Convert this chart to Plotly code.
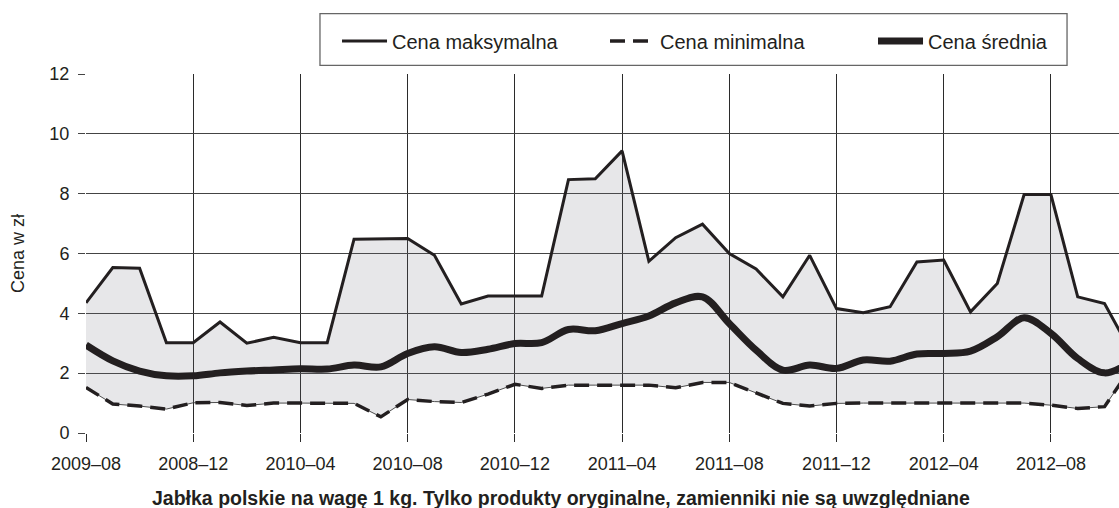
import plotly.graph_objects as go

months = ["2009-08", "2009-09", "2009-10", "2009-11", "2009-12",
          "2010-01", "2010-02", "2010-03", "2010-04", "2010-05", "2010-06", "2010-07",
          "2010-08", "2010-09", "2010-10", "2010-11", "2010-12",
          "2011-01", "2011-02", "2011-03", "2011-04", "2011-05", "2011-06", "2011-07",
          "2011-08", "2011-09", "2011-10", "2011-11", "2011-12",
          "2012-01", "2012-02", "2012-03", "2012-04", "2012-05", "2012-06", "2012-07",
          "2012-08", "2012-09", "2012-10", "2012-11"]

max_price = [4.35, 5.53, 5.51, 3.02, 3.02, 3.71, 3.0, 3.2, 3.02, 3.02,
             6.48, 6.49, 6.5, 5.94, 4.31, 4.58, 4.58, 4.58, 8.47, 8.5,
             9.43, 5.74, 6.53, 6.98, 6.0, 5.48, 4.55, 5.94, 4.16, 4.02,
             4.22, 5.72, 5.78, 4.05, 5.0, 7.97, 7.97, 4.55, 4.33, 2.7]

min_price = [1.52, 0.97, 0.9, 0.8, 1.01, 1.02, 0.92, 1.0, 1.0, 1.0,
             0.99, 0.54, 1.12, 1.05, 1.02, 1.3, 1.63, 1.49, 1.6, 1.6,
             1.6, 1.6, 1.51, 1.69, 1.69, 1.33, 0.99, 0.9, 0.99, 1.0,
             1.0, 1.0, 1.0, 1.0, 1.0, 1.0, 0.93, 0.82, 0.88, 2.2]

mean_price = [2.94, 2.41, 2.07, 1.91, 1.91, 2.01, 2.07, 2.11, 2.15, 2.14,
              2.27, 2.21, 2.66, 2.88, 2.69, 2.8, 2.99, 3.02, 3.46, 3.42,
              3.66, 3.91, 4.35, 4.55, 3.66, 2.77, 2.1, 2.27, 2.16, 2.44,
              2.4, 2.64, 2.66, 2.74, 3.22, 3.85, 3.33, 2.49, 2.01, 2.4]

tick_months = ["2009-08", "2009-12", "2010-04", "2010-08", "2010-12",
               "2011-04", "2011-08", "2011-12", "2012-04", "2012-08"]
tick_labels = ["2009–08", "2008–12", "2010–04", "2010–08", "2010–12",
               "2011–04", "2011–08", "2011–12", "2012–04", "2012–08"]

names = ["Cena maksymalna", "Cena minimalna", "Cena średnia"]
y_title = "Cena w zł"
x_title = "Jabłka polskie na wagę 1 kg. Tylko produkty oryginalne, zamienniki nie są uwzględniane"

INK = "#231f20"
FONT = "Liberation Sans, Arial, Helvetica, sans-serif"

fig = go.Figure()

# shaded band between min and max
fig.add_trace(go.Scatter(x=months, y=min_price, mode="lines",
                         line=dict(color="rgba(60,60,60,0.9)", width=1),
                         showlegend=False, hoverinfo="skip"))
fig.add_trace(go.Scatter(x=months, y=max_price, mode="lines",
                         line=dict(width=0), fill="tonexty",
                         fillcolor="rgba(110,115,125,0.17)",
                         showlegend=False, hoverinfo="skip"))

fig.add_trace(go.Scatter(x=months, y=max_price, mode="lines", name=names[0],
                         line=dict(color=INK, width=3)))
fig.add_trace(go.Scatter(x=months, y=min_price, mode="lines", name=names[1],
                         line=dict(color=INK, width=3.5, dash="15px,8px")))
fig.add_trace(go.Scatter(x=months, y=mean_price, mode="lines", name=names[2],
                         line=dict(color=INK, width=7, shape="spline", smoothing=1.0)))

fig.update_layout(
    width=1119, height=508,
    margin=dict(l=86, r=0, t=74, b=75, autoexpand=False),
    paper_bgcolor="white", plot_bgcolor="white",
    font=dict(family=FONT, color=INK, size=18),
    showlegend=True,
    legend=dict(orientation="h", traceorder="normal",
                x=0.243, xanchor="left", y=1.092, yanchor="middle",
                bgcolor="rgba(0,0,0,0)", borderwidth=0,
                font=dict(size=20, color=INK), itemwidth=45,
                entrywidth=208, entrywidthmode="pixels"),
    shapes=[dict(type="rect", xref="paper", yref="paper",
                 x0=0.2265, x1=0.9497, y0=1.024, y1=1.168,
                 line=dict(color="#666666", width=1.3), fillcolor="rgba(0,0,0,0)")],
    annotations=[dict(text="<b>" + x_title + "</b>", xref="paper", yref="paper",
                      x=0.460, y=-0.181, xanchor="center", yanchor="middle",
                      showarrow=False, font=dict(size=19.5, color=INK, family=FONT))],
)

fig.update_xaxes(
    type="category", categoryorder="array", categoryarray=months,
    range=[0, 38.54],
    tickmode="array", tickvals=tick_months, ticktext=tick_labels,
    showgrid=True, gridcolor="#2b2b2b", gridwidth=1.3,
    ticks="outside", ticklen=8, tickwidth=1.3, tickcolor="#2b2b2b",
    tickfont=dict(size=18, color=INK), ticklabelstandoff=6,
    showline=False, zeroline=False,
)
fig.update_yaxes(
    range=[0, 12], tickmode="array", tickvals=[0, 2, 4, 6, 8, 10, 12],
    showgrid=True, gridcolor="#444444", gridwidth=1.3,
    ticks="outside", ticklen=7, tickwidth=1.3, tickcolor="#444444",
    tickfont=dict(size=18, color=INK), ticklabelstandoff=5,
    title=dict(text=y_title, font=dict(size=18, color=INK), standoff=20),
    showline=False, zeroline=False,
)

fig.write_html("out.html",
               config={"displayModeBar": False},
               post_script="document.body.style.margin='0';"
                           "document.body.style.overflow='hidden';")
